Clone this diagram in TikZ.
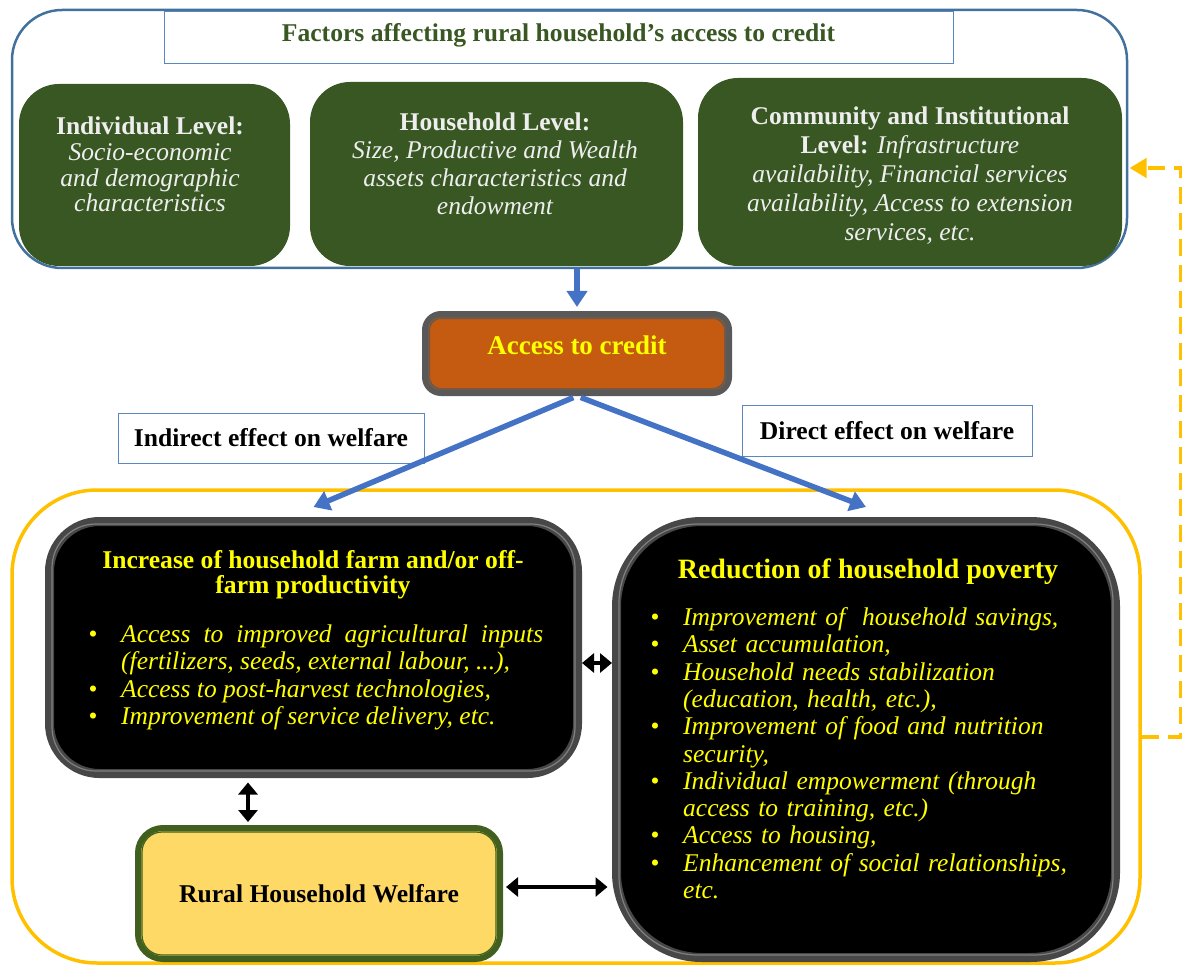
\documentclass[tikz,border=0pt]{standalone}
\usepackage{fontspec}
\setmainfont{Liberation Serif}
\usetikzlibrary{arrows.meta}
\definecolor{frameblue}{HTML}{41719C}
\definecolor{titleblue}{HTML}{5B87C0}
\definecolor{leafgreen}{HTML}{385723}
\definecolor{softwhite}{HTML}{EEEEEE}
\definecolor{arrowblue}{HTML}{4472C4}
\definecolor{creditorange}{HTML}{C55A11}
\definecolor{creditedge}{HTML}{595959}
\definecolor{ambergold}{HTML}{FFC000}
\definecolor{blackedge}{HTML}{474747}
\definecolor{welfareyellow}{HTML}{FFD966}
\definecolor{welfaregreen}{HTML}{41601F}
\definecolor{textyellow}{HTML}{FFFF00}

\newenvironment{dotlist}{\linewidth=\hsize
  \begin{list}{\textbullet}{\setlength{\leftmargin}{41pt}\setlength{\labelwidth}{17pt}%
    \setlength{\labelsep}{24pt}\setlength{\itemsep}{0pt}\setlength{\parsep}{0pt}%
    \setlength{\topsep}{0pt}\setlength{\partopsep}{0pt}}}{\end{list}}

\begin{document}
\begin{tikzpicture}[x=1pt,y=-1pt,
    every node/.style={inner sep=0pt},
    levelbox/.style={fill=leafgreen, rounded corners=40pt},
    leveltext/.style={text=softwhite, align=center, font=\fontsize{25.5}{#1}\selectfont\itshape},
    labelbox/.style={draw=titleblue, line width=1pt, fill=white, font=\fontsize{25.6}{27}\selectfont\bfseries},
    blackbox/.style={draw=blackedge, line width=9pt, fill=black},
    boxtitle/.style={text=textyellow, align=center, font=\fontsize{#1}{25}\selectfont\bfseries},
    listtext/.style={text=textyellow, anchor=north west, font=\fontsize{25.5}{27.3}\selectfont\itshape},
    bluearrow/.style={draw=arrowblue, line width=5.5pt, -{Triangle[width=20pt,length=16pt]}},
    duplex/.style={line width=4pt, {Triangle[width=19pt,length=12pt]}-{Triangle[width=19pt,length=12pt]}},
    goldloop/.style={draw=ambergold, line width=4.5pt, dash pattern=on 17pt off 9pt,
      -{Triangle[width=19pt,length=17pt]}, shorten >=1.25pt}]
  \useasboundingbox (0,0) rectangle (1182,965);

  % factors frame
  \node[draw=frameblue, line width=2.5pt, rounded corners=50pt, minimum width=1115pt, minimum height=258pt] (frame) at (569.5,139) {};
  \node[labelbox, text=leafgreen, minimum width=789pt, minimum height=52pt, text depth=12pt] (heading) at (558.5,38)
    {Factors affecting rural household’s access to credit};

  \node[levelbox, minimum width=271pt, minimum height=182pt] (ind) at (154.5,175) {};
  \node[leveltext=25.7] (indtext) at (150,164.5)
    {{\upshape\bfseries Individual Level:}\\Socio-economic\\and demographic\\characteristics};
  \node[levelbox, minimum width=373pt, minimum height=184pt] (hh) at (496.5,174) {};
  \node[leveltext=28] (hhtext) at (495,164)
    {{\upshape\bfseries Household Level:}\\Size, Productive and Wealth\\assets characteristics and\\endowment};
  \node[levelbox, minimum width=424pt, minimum height=188pt] (comm) at (910,172) {};
  \node[leveltext=29] (commtext) at (910,176)
    {{\upshape\bfseries Community and Institutional}\\{\upshape\bfseries Level:} Infrastructure\\availability, Financial services\\availability, Access to extension\\services, etc.};

  % credit
  \node[draw=creditedge, line width=8pt, fill=creditorange, rounded corners=15pt, minimum width=302pt, minimum height=77pt,
    text=textyellow, font=\fontsize{27}{30}\selectfont\bfseries, text depth=16pt] (credit) at (577,353.5) {Access to credit};

  \node[labelbox, minimum width=306pt, minimum height=50pt] (indirect) at (271,438) {Indirect effect on welfare};
  \node[labelbox, minimum width=290pt, minimum height=51pt] (direct) at (887,430.5) {Direct effect on welfare};

  % welfare frame
  \node[draw=ambergold, line width=3.5pt, rounded corners=85pt, minimum width=1128pt, minimum height=473pt] (welfarezone) at (576,726.5) {};

  \node[blackbox, rounded corners=50pt, minimum width=528pt, minimum height=252pt] (prod) at (313.5,647.5) {};
  \node[blackbox, rounded corners=85pt, minimum width=499pt, minimum height=436pt] (pov) at (866,739.5) {};
  \node[draw=welfaregreen, line width=6pt, fill=welfareyellow, rounded corners=25pt, minimum width=362pt, minimum height=131pt,
    font=\fontsize{25.6}{27}\selectfont\bfseries] (welfare) at (319,893.5) {Rural Household Welfare};

  \foreach \nd/\rad/\col in {credit/10/creditedge!60!creditorange, prod/44/gray, pov/79/gray, welfare/20/welfaregreen}
    \draw[\col, line width=1.2pt, rounded corners=\rad pt] ([shift={(7,7)}]\nd.north west) rectangle ([shift={(-7,-7)}]\nd.south east);

  \node[boxtitle=25.6] (prodtitle) at (313,575) {Increase of household farm and/or off-\\farm productivity};
  \node[listtext, text width=463pt, align=justify] (prodlist) at (80,615) {\begin{dotlist}
    \item Access to improved agricultural inputs\linebreak (fertilizers, seeds, external labour, ...),
    \item Access to post-harvest technologies,
    \item Improvement of service delivery, etc.
  \end{dotlist}};

  \node[boxtitle=28] (povtitle) at (868,572) {Reduction of household poverty};
  \node[listtext, text width=450pt, align=left] (povlist) at (642,598) {\begin{dotlist}
    \item Improvement of\ \ household savings,
    \item Asset accumulation,
    \item Household needs stabilization\\(education, health, etc.),
    \item Improvement of food and nutrition\\security,
    \item Individual empowerment (through\\access to training, etc.)
    \item Access to housing,
    \item Enhancement of social relationships,\\etc.
  \end{dotlist}};

  % connectors
  \coordinate (vlink) at (248,800);
  \coordinate (hlink) at (597,663);
  \coordinate (wlink) at (557,887);
  \coordinate (loopbottom) at (1181,737);
  \coordinate (looptop) at (1181,168);

  \draw[bluearrow, shorten >=4pt] (frame.south -| credit.north) -- (credit.north);
  \draw[bluearrow, shorten <=4pt] (credit.south) -- ([yshift=10pt]prod.north);
  \draw[bluearrow, shorten <=4pt] (credit.south) -- ([yshift=10pt]pov.north);

  \draw[duplex, shorten <=4.5pt, shorten >=3pt] (prod.south -| vlink) -- (welfare.north -| vlink);
  \draw[duplex] (prod.east |- hlink) -- (pov.west |- hlink);
  \draw[duplex, shorten <=3pt, shorten >=4.5pt] (welfare.east |- wlink) -- (pov.west |- wlink);

  \draw[goldloop] (welfarezone.east |- loopbottom) -- (loopbottom) -- (looptop) -- (frame.east |- looptop);
\end{tikzpicture}
\end{document}
